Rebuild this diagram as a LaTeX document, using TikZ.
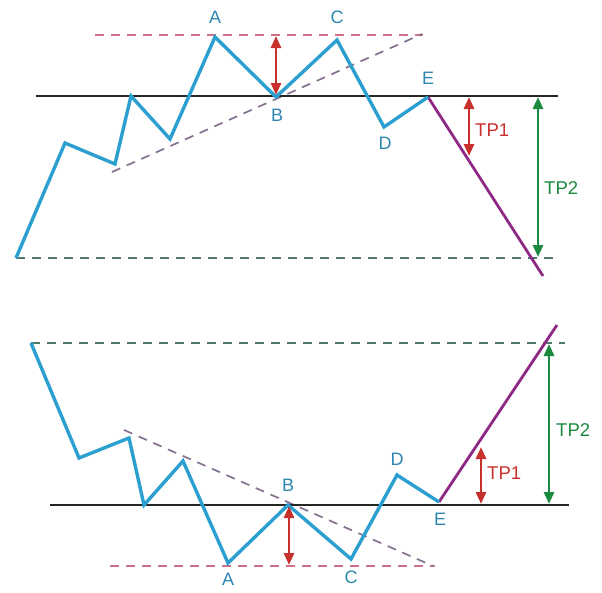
\documentclass[tikz,border=0pt]{standalone}
\usepackage{fontspec}
\setmainfont{Liberation Sans}
\usetikzlibrary{arrows.meta}
\definecolor{wave}{HTML}{2A9FD0}
\definecolor{lbl}{HTML}{2E86B0}
\definecolor{tpred}{HTML}{C8302E}
\definecolor{tpgreen}{HTML}{1C8A3E}
\definecolor{brk}{HTML}{8E2A86}
\definecolor{pinkd}{HTML}{D0708A}
\definecolor{grayd}{HTML}{857090}
\definecolor{greend}{HTML}{4E7A6A}
\tikzset{
  wavel/.style={draw=wave, line width=3.4pt, line join=miter},
  neck/.style={draw=black!85, line width=1.5pt},
  brkline/.style={draw=brk, line width=2.8pt},
  dpink/.style={draw=pinkd, line width=1.7pt, dash pattern=on 9pt off 7pt},
  dgray/.style={draw=grayd, line width=1.7pt, dash pattern=on 9pt off 7pt},
  dgreen/.style={draw=greend, line width=1.7pt, dash pattern=on 9pt off 7pt},
  tparrow/.style={line width=2.8pt, {Triangle[width=10pt,length=12pt]}-{Triangle[width=10pt,length=12pt]}, shorten <=1pt, shorten >=1pt},
  ptlbl/.style={text=lbl, font=\fontsize{18}{20}\selectfont, inner sep=0pt},
  tplbl/.style={font=\fontsize{18.5}{21}\selectfont, inner sep=0pt, anchor=west}
}
\begin{document}
\begin{tikzpicture}[x=1pt,y=-1pt]
\useasboundingbox (0,0) rectangle (602,592);
% ---------- top diagram ----------
\coordinate (t0) at (16,258);
\coordinate (t1) at (65,143);
\coordinate (t2) at (115,164);
\coordinate (t3) at (131,96);
\coordinate (t4) at (170,139);
\coordinate (tA) at (215,37);
\coordinate (tB) at (276,97);
\coordinate (tC) at (337,40);
\coordinate (tD) at (384,127);
\coordinate (tE) at (428,97);
\coordinate (tEnd) at (543,276);
\coordinate (tNl) at (36,96);
\coordinate (tNr) at (558,96);
\coordinate (tPl) at (95,35);
\coordinate (tPr) at (423,35);
\coordinate (tGl) at (112,172);
\coordinate (tGr) at (422,34);
\coordinate (tDl) at (16,258);
\coordinate (tDr) at (553,258);
\coordinate (tR1) at (276,35);
\coordinate (tR2) at (276,96);
\coordinate (tP1a) at (469,96);
\coordinate (tP1b) at (469,157);
\coordinate (tP2a) at (538,96);
\coordinate (tP2b) at (538,258);

\path[dpink] (tPl) -- (tPr);
\path[dgray] (tGl) -- (tGr);
\path[dgreen] (tDl) -- (tDr);
\path[neck] (tNl) -- (tNr);
\path[brkline] (tE) -- (tEnd);
\path[wavel] (t0) -- (t1) -- (t2) -- (t3) -- (t4) -- (tA) -- (tB) -- (tC) -- (tD) -- (tE);
\draw[tparrow, tpred] (tR1) -- (tR2);
\draw[tparrow, tpred] (tP1a) -- (tP1b);
\draw[tparrow, tpgreen] (tP2a) -- (tP2b);

\node[ptlbl] (labA1) at (215,17) {A};
\node[ptlbl] (labB1) at (277,115) {B};
\node[ptlbl] (labC1) at (337,17) {C};
\node[ptlbl] (labD1) at (385,143) {D};
\node[ptlbl] (labE1) at (428,78) {E};
\node[tplbl, text=tpred] (tp1a) at (475,130) {TP1};
\node[tplbl, text=tpgreen] (tp2a) at (544,188) {TP2};

% ---------- bottom diagram ----------
\coordinate (b0) at (31,343);
\coordinate (b1) at (79,458);
\coordinate (b2) at (129,438);
\coordinate (b3) at (144,505);
\coordinate (b4) at (183,461);
\coordinate (bA) at (228,563);
\coordinate (bB) at (288,505);
\coordinate (bC) at (351,559);
\coordinate (bD) at (397,475);
\coordinate (bE) at (439,502);
\coordinate (bEnd) at (557,325);
\coordinate (bNl) at (50,505);
\coordinate (bNr) at (569,505);
\coordinate (bPl) at (110,566);
\coordinate (bPr) at (435,566);
\coordinate (bGl) at (124,430);
\coordinate (bGr) at (433,566);
\coordinate (bDl) at (31,343);
\coordinate (bDr) at (565,343);
\coordinate (bR1) at (289,505);
\coordinate (bR2) at (289,566);
\coordinate (bP1a) at (481,446);
\coordinate (bP1b) at (481,505);
\coordinate (bP2a) at (549,343);
\coordinate (bP2b) at (549,505);

\path[dpink] (bPl) -- (bPr);
\path[dgray] (bGl) -- (bGr);
\path[dgreen] (bDl) -- (bDr);
\path[neck] (bNl) -- (bNr);
\path[brkline] (bE) -- (bEnd);
\path[wavel] (b0) -- (b1) -- (b2) -- (b3) -- (b4) -- (bA) -- (bB) -- (bC) -- (bD) -- (bE);
\draw[tparrow, tpred] (bR1) -- (bR2);
\draw[tparrow, tpred] (bP1a) -- (bP1b);
\draw[tparrow, tpgreen] (bP2a) -- (bP2b);

\node[ptlbl] (labA2) at (228,579) {A};
\node[ptlbl] (labB2) at (288,485) {B};
\node[ptlbl] (labC2) at (351,577) {C};
\node[ptlbl] (labD2) at (397,459) {D};
\node[ptlbl] (labE2) at (440,519) {E};
\node[tplbl, text=tpred] (tp1b) at (487,473) {TP1};
\node[tplbl, text=tpgreen] (tp2b) at (556,430) {TP2};
\end{tikzpicture}
\end{document}
